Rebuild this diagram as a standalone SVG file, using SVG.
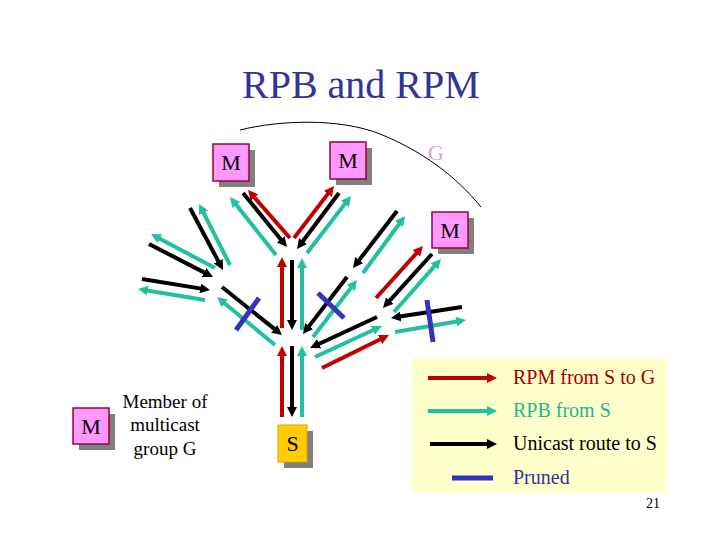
<svg xmlns="http://www.w3.org/2000/svg" width="720" height="540" viewBox="0 0 720 540">
<defs>
<style>
text{font-family:"Liberation Serif","Times New Roman",serif}
.r{stroke:#c00000;stroke-width:4;fill:none;marker-end:url(#hr)}
.t{stroke:#20c0a0;stroke-width:4;fill:none;marker-end:url(#ht)}
.k{stroke:#000;stroke-width:4;fill:none;marker-end:url(#hk)}
.p{stroke:#3333bb;stroke-width:5;fill:none}
.mb{fill:#ff99ff;stroke:#990033;stroke-width:1.5}
.sh{fill:#808080}
.bt{font-size:22px;fill:#000;text-anchor:middle}
.lg{font-size:20px}
</style>
<marker id="hr" viewBox="0 0 10 10" markerUnits="userSpaceOnUse" markerWidth="10" markerHeight="10" refX="1" refY="5" orient="auto"><path d="M0,0L10,5L0,10z" fill="#c00000"/></marker>
<marker id="ht" viewBox="0 0 10 10" markerUnits="userSpaceOnUse" markerWidth="10" markerHeight="10" refX="1" refY="5" orient="auto"><path d="M0,0L10,5L0,10z" fill="#20c0a0"/></marker>
<marker id="hk" viewBox="0 0 10 10" markerUnits="userSpaceOnUse" markerWidth="10" markerHeight="10" refX="1" refY="5" orient="auto"><path d="M0,0L10,5L0,10z" fill="#000"/></marker>
</defs>
<rect width="720" height="540" fill="#fff"/>
<text x="242" y="98" font-size="40" fill="#333399">RPB and RPM</text>
<path d="M240,130 C280,120 340,118 380,134 C420,150 455,175 481,207" fill="none" stroke="#000" stroke-width="1"/>
<text x="428" y="160" font-size="22" fill="#d8a0d8">G</text>

<g id="legend">
<rect x="412" y="358" width="255" height="135" fill="#ffffcc"/>
<line class="r" x1="428" y1="378" x2="488" y2="378"/>
<text class="lg" x="513" y="384" fill="#a00000">RPM from S to G</text>
<line class="t" x1="428" y1="411" x2="488" y2="411"/>
<text class="lg" x="513" y="417" fill="#20b890">RPB from S</text>
<line class="k" x1="430" y1="444" x2="488" y2="444"/>
<text class="lg" x="513" y="450" fill="#000">Unicast route to S</text>
<line class="p" x1="452" y1="478" x2="493" y2="478" stroke-width="6"/>
<text class="lg" x="513" y="484" fill="#333399">Pruned</text>
</g>
<text x="646" y="508" font-size="14" fill="#000">21</text>

<g id="connectors">
<line class="r" x1="290" y1="238" x2="253.9" y2="196.8"/>
<line class="k" x1="243" y1="193" x2="281.3" y2="240"/>
<line class="t" x1="276" y1="255" x2="235.6" y2="204.1"/>
<line class="r" x1="294" y1="238" x2="328.5" y2="193.1"/>
<line class="k" x1="339" y1="193" x2="302.4" y2="241.8"/>
<line class="t" x1="307" y1="253" x2="345.5" y2="203.1"/>
<line class="k" x1="190" y1="208" x2="218.8" y2="262.1"/>
<line class="t" x1="230" y1="265" x2="203.1" y2="212"/>
<line class="k" x1="149" y1="244" x2="205" y2="272.9"/>
<line class="t" x1="215" y1="268" x2="158.9" y2="238.2"/>
<line class="k" x1="142" y1="279" x2="201.1" y2="288.6"/>
<line class="t" x1="205" y1="300" x2="146.9" y2="290.5"/>
<line class="k" x1="222" y1="287" x2="275" y2="329.4"/>
<line class="t" x1="275" y1="345" x2="223.9" y2="302.7"/>
<line class="r" x1="282" y1="328" x2="282" y2="266"/>
<line class="k" x1="292" y1="260" x2="292" y2="321"/>
<line class="t" x1="302" y1="330" x2="302" y2="267"/>
<line class="r" x1="282" y1="417" x2="282" y2="355"/>
<line class="k" x1="292" y1="346" x2="292" y2="408"/>
<line class="t" x1="302" y1="417" x2="302" y2="355"/>
<line class="k" x1="397" y1="211" x2="358.5" y2="260.9"/>
<line class="t" x1="363" y1="273" x2="399.7" y2="223.2"/>
<line class="k" x1="347" y1="277" x2="308.5" y2="326.9"/>
<line class="t" x1="313" y1="337" x2="351.5" y2="287.1"/>
<line class="r" x1="376" y1="298" x2="417" y2="252.7"/>
<line class="k" x1="432" y1="254" x2="389" y2="301.3"/>
<line class="t" x1="394" y1="312" x2="435" y2="265.7"/>
<line class="k" x1="462" y1="307" x2="399.9" y2="316.6"/>
<line class="t" x1="395" y1="332" x2="457.1" y2="321.5"/>
<line class="k" x1="377" y1="317" x2="318.2" y2="344.2"/>
<line class="t" x1="315" y1="357" x2="373.8" y2="329.8"/>
<line class="r" x1="322" y1="368" x2="380.9" y2="339"/>
<line class="p" x1="236" y1="330" x2="259" y2="298"/>
<line class="p" x1="318" y1="293" x2="344" y2="318"/>
<line class="p" x1="427" y1="300" x2="433" y2="342"/>
</g>

<g id="m1"><rect class="sh" x="219" y="150" width="36" height="37"/><rect class="mb" x="213" y="144" width="36" height="37"/><text class="bt" x="231" y="170">M</text></g>
<g id="m2"><rect class="sh" x="336" y="148" width="36" height="37"/><rect class="mb" x="330" y="142" width="36" height="37"/><text class="bt" x="348" y="168">M</text></g>
<g id="m3"><rect class="sh" x="438" y="218" width="36" height="36"/><rect class="mb" x="432" y="212" width="36" height="36"/><text class="bt" x="450" y="238">M</text></g>
<g id="s"><rect class="sh" x="284" y="431" width="29" height="37"/><rect x="278" y="425" width="29" height="37" fill="#ffcc00" stroke="#e0a000" stroke-width="1"/><text class="bt" x="292.5" y="451">S</text></g>
<g id="mkey"><rect class="sh" x="79" y="414" width="36" height="36"/><rect class="mb" x="73" y="408" width="36" height="36"/><text class="bt" x="91" y="434">M</text>
<text x="165" y="408" font-size="19" text-anchor="middle">Member of</text>
<text x="165" y="431" font-size="19" text-anchor="middle">multicast</text>
<text x="165" y="455" font-size="19" text-anchor="middle">group G</text></g>
</svg>
